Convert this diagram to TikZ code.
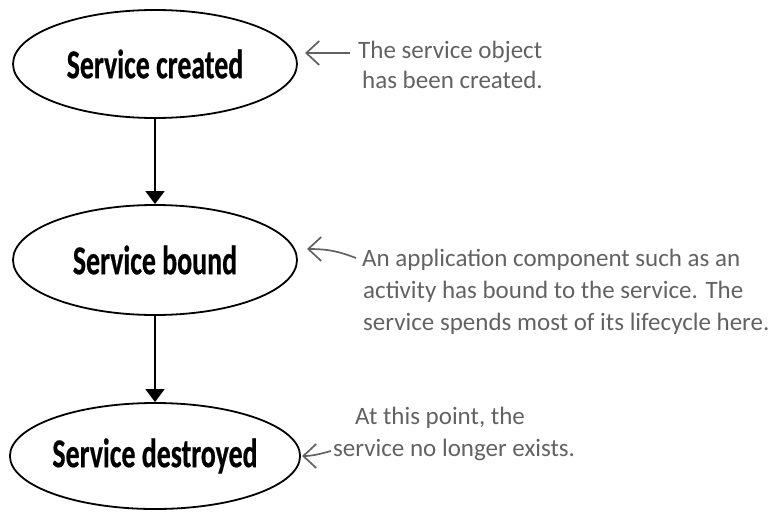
\documentclass[tikz,border=0pt]{standalone}
\usepackage{fontspec}
\usetikzlibrary{arrows.meta,shapes.geometric}
\newfontfamily\labelfont[FakeStretch=0.68,BoldFeatures={FakeBold=0.5}]{Carlito}
\newfontfamily\notefont{Carlito}
\definecolor{notegray}{HTML}{626262}
\tikzset{
  state/.style={ellipse,draw=black,line width=1.8pt,minimum width=284pt,inner sep=0pt,
    font=\labelfont\bfseries\fontsize{41}{44}\selectfont},
  flow/.style={line width=1.8pt,-{Triangle[width=19pt,length=13pt]}},
  note/.style={anchor=base west,inner sep=0pt,text=notegray,
    font=\notefont\fontsize{25}{30}\selectfont},
  notearrow/.style={draw=notegray,line width=1.7pt,-{Straight Barb[length=13pt,width=24pt,line width=1.7pt]}}
}
\begin{document}
\begin{tikzpicture}[x=1pt,y=-1pt]
\useasboundingbox (0,0) rectangle (783,511);
\node[state,minimum height=108pt] (e1) at (155,64) {Service created};
\node[state,minimum height=110pt] (e2) at (155,260) {Service bound};
\node[state,minimum height=106pt] (e3) at (155,456) {Service destroyed};
\draw[flow] (e1.south) -- (e2.north);
\draw[flow] (e2.south) -- (e3.north);
% note 1
\node[note] (n1a) at (358,59) {The service object};
\node[note] (n1b) at (362,88) {has been created.};
\coordinate (n1tail) at (350,53);
\coordinate (n1tip) at (305,53);
\draw[notearrow] (n1tail) -- (n1tip);
% note 2
\node[note] (n2a) at (362,266) {An application component such as an};
\node[note] (n2b) at (363,298) {activity has bound to the service. The};
\node[note] (n2c) at (363,330) {service spends most of its lifecycle here.};
\coordinate (n2tail) at (356,258);
\coordinate (n2tip) at (307,249);
\draw[notearrow] (n2tail) .. controls (340,252) and (330,249) .. (n2tip);
% note 3
\node[note] (n3a) at (355,424) {At this point, the};
\node[note] (n3b) at (333,456) {service no longer exists.};
\coordinate (n3tail) at (331,451);
\coordinate (n3tip) at (302,456);
\draw[notearrow] (n3tail) .. controls (320,454) and (312,456) .. (n3tip);
\end{tikzpicture}
\end{document}
